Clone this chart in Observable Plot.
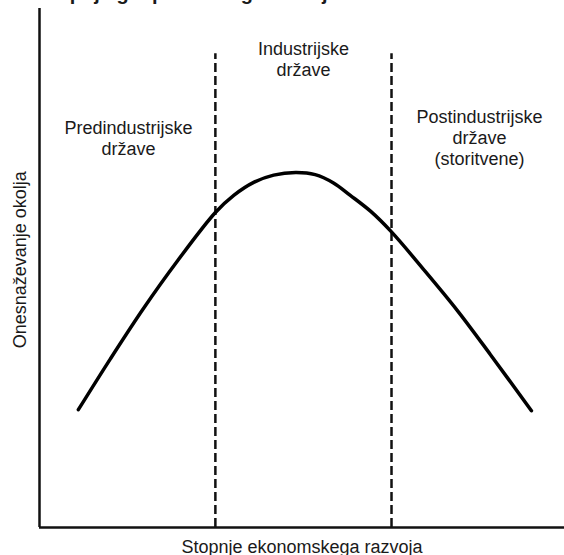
<!DOCTYPE html>
<html>
<head>
<meta charset="utf-8">
<script src="https://cdn.jsdelivr.net/npm/d3@7"></script>
<script src="https://cdn.jsdelivr.net/npm/@observablehq/plot@0.6"></script>
<style>
  html, body { margin: 0; padding: 0; background: #fff; }
  svg { overflow: hidden; }
</style>
</head>
<body>
<div id="chart"></div>
<script>
// Conceptual curve: level of development (0–100) vs. environmental pollution (0–100)
const development = [7.4, 13.5, 19.8, 26.3, 33.5, 37.0, 40.8, 44.6, 48.8, 52.5, 56.0, 59.2, 63.1, 67.0, 73.1, 79.6, 85.9, 93.7];
const pollution   = [22.7, 32.5, 42.2, 51.4, 60.7, 64.0, 66.5, 67.9, 68.4, 68.0, 66.4, 64.0, 60.9, 57.0, 49.8, 41.8, 33.3, 22.5];

// Stage boundaries (dashed lines)
const boundaries = [33.5, 67.05];
const boundaryTop = 91.3;

// Stage labels
const stageNames = ["Predindustrijske\ndržave", "Industrijske\ndržave", "Postindustrijske\ndržave\n(storitvene)"];
const stageX = [16.95, 50.3, 83.8];
const stageY = [71.7, 86.9, 69.9];

const title = "Stopnje gospodarskega razvoja";
const xLabel = "Stopnje ekonomskega razvoja";
const yLabel = "Onesnaževanje okolja";
const yLabelPos = 51.6;

const curve = development.map((d, i) => ({x: d, y: pollution[i]}));
const labels = stageNames.map((t, i) => ({t, x: stageX[i], y: stageY[i]}));

const font = "Liberation Sans, Arial, sans-serif";

const chart = Plot.plot({
  width: 564,
  height: 555,
  marginLeft: 39,
  marginRight: 0,
  marginTop: 8,
  marginBottom: 28,
  style: {fontFamily: font, background: "#fff", color: "#111"},
  x: {domain: [0, 100], axis: null},
  y: {domain: [0, 100], axis: null},
  marks: [
    // axes
    Plot.ruleX([0], {y1: 0, y2: 100, stroke: "#111", strokeWidth: 2.5}),
    Plot.ruleY([0], {x1: 0, x2: 100, stroke: "#111", strokeWidth: 2.5}),
    // boundaries
    Plot.ruleX(boundaries, {y1: 0, y2: boundaryTop, stroke: "#111", strokeWidth: 2.5, strokeDasharray: "9,4"}),
    // curve
    Plot.line(curve, {x: "x", y: "y", curve: "catmull-rom", stroke: "#000", strokeWidth: 3.5}),
    // stage labels
    Plot.text(labels, {x: "x", y: "y", text: "t", lineAnchor: "bottom", lineHeight: 1.17, fontSize: 18, fill: "#1a1a1a", textAnchor: "middle"}),
    // x label
    Plot.text([xLabel], {frameAnchor: "bottom", dy: 25, lineAnchor: "bottom", fontSize: 18, fill: "#1a1a1a"}),
    // y label
    Plot.text([yLabel], {y: yLabelPos, frameAnchor: "left", dx: -14, rotate: -90, lineAnchor: "bottom", textAnchor: "middle", fontSize: 18, fill: "#1a1a1a"}),
    // cropped title
    Plot.text([title], {frameAnchor: "top-left", dx: -2, dy: -9, lineAnchor: "bottom", textAnchor: "start", fontSize: 20, fontWeight: "bold", fill: "#1a1a1a"})
  ]
});
document.getElementById("chart").appendChild(chart);
</script>
</body>
</html>
